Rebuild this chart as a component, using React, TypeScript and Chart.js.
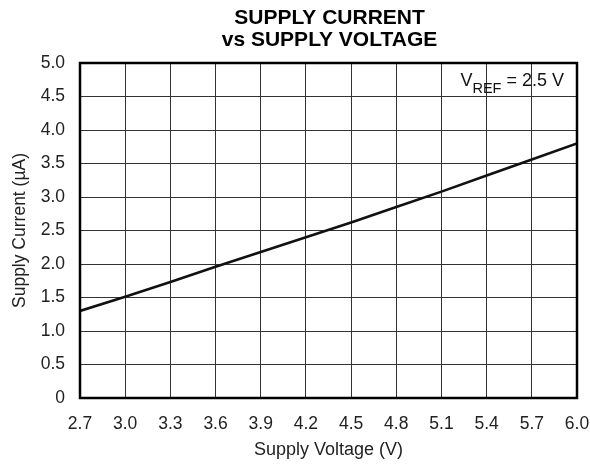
import React, { useEffect, useRef } from "react";
import { Chart, registerables } from "chart.js";

Chart.register(...registerables);

const voltages = [2.7, 3.0, 3.3, 3.6, 3.9, 4.2, 4.5, 4.8, 5.1, 5.4, 5.7, 6.0];
const currents = [1.3, 1.51, 1.73, 1.96, 2.18, 2.4, 2.62, 2.85, 3.08, 3.32, 3.56, 3.8];
const xTicks = [2.7, 3.0, 3.3, 3.6, 3.9, 4.2, 4.5, 4.8, 5.1, 5.4, 5.7, 6.0];
const yTicks = [0, 0.5, 1.0, 1.5, 2.0, 2.5, 3.0, 3.5, 4.0, 4.5, 5.0];
const titleLines = ["SUPPLY CURRENT", "vs SUPPLY VOLTAGE"];
const xTitle = "Supply Voltage (V)";
const yTitle = "Supply Current (\u00b5A)";

const FONT = "'Liberation Sans', Arial, Helvetica, sans-serif";

const decorPlugin = {
  id: "decor",
  afterDatasetsDraw(chart: any) {
    const { ctx, chartArea } = chart;
    ctx.save();
    // frame
    ctx.strokeStyle = "#000";
    ctx.lineWidth = 2.5;
    ctx.strokeRect(chartArea.left, chartArea.top, chartArea.right - chartArea.left, chartArea.bottom - chartArea.top);
    // annotation
    ctx.fillStyle = "#111";
    ctx.textBaseline = "alphabetic";
    ctx.textAlign = "left";
    const big = `18px ${FONT}`;
    const small = `14.5px ${FONT}`;
    ctx.font = big;
    const wV = ctx.measureText("V").width;
    const wRest = ctx.measureText(" = 2.5 V").width;
    ctx.font = small;
    const wRef = ctx.measureText("REF").width;
    const rightX = chartArea.right - 13;
    const base = chartArea.top + 22.5;
    let x = rightX - (wV + wRef + wRest);
    ctx.font = big;
    ctx.fillText("V", x, base);
    x += wV;
    ctx.font = small;
    ctx.fillText("REF", x, base + 7);
    x += wRef;
    ctx.font = big;
    ctx.fillText(" = 2.5 V", x, base);
    // title
    ctx.fillStyle = "#000";
    ctx.textAlign = "center";
    ctx.font = `bold 21px ${FONT}`;
    const cx = (chartArea.left + chartArea.right) / 2 + 1;
    ctx.fillText(titleLines[0], cx, 24);
    ctx.fillText(titleLines[1], cx, 46);
    ctx.restore();
  },
};

export default function App() {
  const ref = useRef<HTMLCanvasElement>(null);
  useEffect(() => {
    document.body.style.margin = "0";
    const canvas = ref.current!;
    const chart = new Chart(canvas, {
      type: "line",
      data: {
        datasets: [
          {
            data: voltages.map((v, i) => ({ x: v, y: currents[i] })),
            borderColor: "#111",
            borderWidth: 2.6,
            pointRadius: 0,
            tension: 0,
            fill: false,
          },
        ],
      },
      options: {
        animation: false,
        responsive: false,
        devicePixelRatio: 1,
        layout: { padding: { top: 63, right: 13, bottom: 0, left: 0 } },
        plugins: { legend: { display: false }, tooltip: { enabled: false }, title: { display: false } },
        scales: {
          x: {
            type: "linear",
            min: 2.7,
            max: 6.0,
            afterBuildTicks: (s: any) => {
              s.ticks = xTicks.map((v) => ({ value: v }));
            },
            afterFit: (s: any) => {
              s.height = 66;
              s.paddingLeft = 0;
              s.paddingRight = 0;
            },
            grid: { color: "#333", lineWidth: 1, drawTicks: false },
            border: { display: false },
            ticks: {
              autoSkip: false,
              maxRotation: 0,
              padding: 16,
              color: "#222",
              font: { family: FONT, size: 17.5 },
              callback: (v: any) => Number(v).toFixed(1),
            },
            title: {
              display: true,
              text: xTitle,
              color: "#222",
              font: { family: FONT, size: 18 },
              padding: { top: 0, bottom: 3 },
            },
          },
          y: {
            type: "linear",
            min: 0,
            max: 5.0,
            afterBuildTicks: (s: any) => {
              s.ticks = yTicks.map((v) => ({ value: v }));
            },
            afterFit: (s: any) => {
              s.width = 80;
              s.paddingTop = 0;
              s.paddingBottom = 0;
            },
            grid: { color: "#333", lineWidth: 1, drawTicks: false },
            border: { display: false },
            ticks: {
              autoSkip: false,
              padding: 15,
              color: "#222",
              font: { family: FONT, size: 17.5 },
              callback: (v: any) => (Number(v) === 0 ? "0" : Number(v).toFixed(1)),
            },
            title: {
              display: true,
              text: yTitle,
              color: "#222",
              font: { family: FONT, size: 17.5 },
              padding: { top: 10, bottom: 0 },
            },
          },
        },
      },
      plugins: [decorPlugin],
    });
    return () => chart.destroy();
  }, []);
  return (
    <div style={{ width: 590, height: 464, background: "#fff" }}>
      <canvas ref={ref} width={590} height={464} />
    </div>
  );
}
